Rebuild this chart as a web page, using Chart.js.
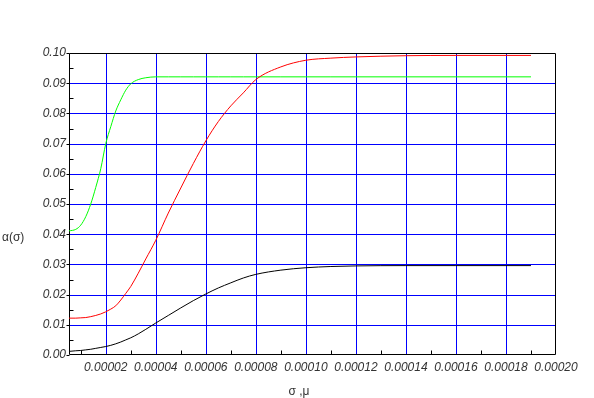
<!DOCTYPE html>
<html>
<head>
<meta charset="utf-8">
<script src="https://cdn.jsdelivr.net/npm/chart.js@4.4.0/dist/chart.umd.min.js"></script>
<style>
  html, body { margin: 0; padding: 0; background: #fff; }
  #wrap { width: 594px; height: 398px; }
</style>
</head>
<body>
<div id="wrap"><canvas id="myChart" width="594" height="398"></canvas></div>
<script>
// sigma values (x axis)
var sigma = [5.3e-6, 8e-6, 1.0e-5, 1.2e-5, 1.4e-5, 1.6e-5, 1.8e-5, 2.0e-5, 2.2e-5, 2.4e-5,
             2.6e-5, 2.8e-5, 3.0e-5, 3.3e-5, 3.6e-5, 4.0e-5, 4.5e-5, 5.0e-5, 5.5e-5, 6.0e-5,
             6.5e-5, 7.0e-5, 7.5e-5, 8.0e-5, 9.0e-5, 1.0e-4, 1.1e-4, 1.2e-4, 1.4e-4, 1.6e-4, 1.9e-4];

var alphaGreen = [0.0411, 0.0416, 0.0430, 0.0458, 0.0500, 0.0555, 0.0617, 0.0700, 0.0756, 0.0808,
                  0.0845, 0.0877, 0.0898, 0.0912, 0.0918, 0.0921, 0.0921, 0.0921, 0.0921, 0.0921,
                  0.0921, 0.0921, 0.0921, 0.0921, 0.0921, 0.0921, 0.0921, 0.0921, 0.0921, 0.0921, 0.0921];

var alphaRed = [0.0122, 0.0122, 0.0123, 0.0124, 0.0127, 0.0131, 0.0136, 0.0143, 0.0152, 0.0163,
                0.0182, 0.0204, 0.0227, 0.0271, 0.0318, 0.0380, 0.0470, 0.0553, 0.0634, 0.0709,
                0.0773, 0.0825, 0.0868, 0.0912, 0.0954, 0.0976, 0.0983, 0.0987, 0.0991, 0.0992, 0.0992];

var alphaBlack = [0.0012, 0.0014, 0.0015, 0.0017, 0.0019, 0.0022, 0.0025, 0.0028, 0.0032, 0.0037,
                  0.0043, 0.0050, 0.0057, 0.0070, 0.0085, 0.0106, 0.0131, 0.0156, 0.0180, 0.0202,
                  0.0222, 0.0239, 0.0255, 0.0267, 0.0281, 0.0289, 0.0293, 0.0295, 0.0296, 0.0296, 0.0296];

var xMinorTicks = [1e-5, 3e-5, 5e-5, 7e-5, 9e-5, 1.1e-4, 1.3e-4, 1.5e-4, 1.7e-4, 1.9e-4];
var yMinorTicks = [0.005, 0.015, 0.025, 0.035, 0.045, 0.055, 0.065, 0.075, 0.085, 0.095];

var xTitle = 'σ ,μ';
var yTitle = 'α(σ)';

function points(ys) {
  return sigma.map(function(s, i) { return {x: s, y: ys[i]}; });
}

var tickFont = { family: '"Liberation Sans", Arial, sans-serif', size: 12, style: 'italic' };

// grid (blue), black frame on top/right, tick marks, axis titles
var extras = {
  id: 'extras',
  beforeDatasetsDraw: function(chart) {
    var c = chart.ctx, area = chart.chartArea, xs = chart.scales.x, ys = chart.scales.y;
    var l = Math.round(area.left) + 0.5, b = Math.round(area.bottom) - 0.5;
    var t = Math.round(area.top) + 0.5, r = Math.round(area.right) - 0.5;
    c.save();
    c.lineWidth = 1;
    c.strokeStyle = '#0000ff';
    c.beginPath();
    xs.ticks.forEach(function(tk) {
      var p = Math.round(xs.getPixelForValue(tk.value)) + 0.5;
      if (p > r - 1) return;
      c.moveTo(p, t);
      c.lineTo(p, b);
    });
    ys.ticks.forEach(function(tk) {
      var p = Math.round(ys.getPixelForValue(tk.value)) + 0.5;
      if (p < t + 1 || p > b - 1) return;
      c.moveTo(l, p);
      c.lineTo(r, p);
    });
    c.stroke();

    c.strokeStyle = '#000';
    c.beginPath();
    c.moveTo(l, b); c.lineTo(l, t); c.lineTo(r, t); c.lineTo(r, b); c.lineTo(l, b);
    ys.ticks.forEach(function(tk) {
      var p = Math.round(ys.getPixelForValue(tk.value)) + 0.5;
      c.moveTo(l - 3, p);
      c.lineTo(l, p);
    });
    yMinorTicks.forEach(function(v) {
      var p = Math.round(ys.getPixelForValue(v)) + 0.5;
      c.moveTo(l, p);
      c.lineTo(l + 4, p);
    });
    xMinorTicks.forEach(function(v) {
      var p = Math.round(xs.getPixelForValue(v)) + 0.5;
      c.moveTo(p, b);
      c.lineTo(p, b - 4);
    });
    c.stroke();
    c.restore();
  },
  afterDraw: function(chart) {
    var c = chart.ctx;
    c.save();
    c.fillStyle = '#333';
    c.font = '12px "Liberation Sans", Arial, sans-serif';
    c.textBaseline = 'middle';
    c.textAlign = 'left';
    c.fillText(yTitle, 2, 238);
    c.textAlign = 'center';
    c.fillText(xTitle, 299, 392);
    c.restore();
  }
};

var myChartObject = document.getElementById('myChart');
var chart = new Chart(myChartObject, {
  type: 'line',
  data: {
    datasets: [
      { data: points(alphaBlack), borderColor: '#000000' },
      { data: points(alphaRed), borderColor: '#ff0000' },
      { data: points(alphaGreen), borderColor: '#00ff00' }
    ]
  },
  options: {
    responsive: false,
    animation: false,
    devicePixelRatio: 1,
    layout: { padding: { top: 53, right: 38, left: 0, bottom: 0 } },
    plugins: { legend: { display: false }, tooltip: { enabled: false } },
    elements: {
      point: { radius: 0 },
      line: { borderWidth: 1, fill: false, cubicInterpolationMode: 'monotone' }
    },
    scales: {
      x: {
        type: 'linear',
        min: 5.3e-6,
        max: 0.0002,
        afterFit: function(s) { s.height = 43; },
        ticks: {
          stepSize: 0.00002,
          includeBounds: false,
          autoSkip: false,
          maxRotation: 0,
          padding: 5,
          color: '#333',
          font: tickFont,
          callback: function(v) { return v.toFixed(5); }
        },
        grid: { display: false, drawTicks: false },
        border: { display: false }
      },
      y: {
        min: 0,
        max: 0.1,
        afterFit: function(s) { s.width = 69; },
        ticks: {
          stepSize: 0.01,
          padding: 3,
          color: '#333',
          font: tickFont,
          callback: function(v) { return v.toFixed(2); }
        },
        grid: { display: false, drawTicks: false },
        border: { display: false }
      }
    }
  },
  plugins: [extras]
});
</script>
</body>
</html>
